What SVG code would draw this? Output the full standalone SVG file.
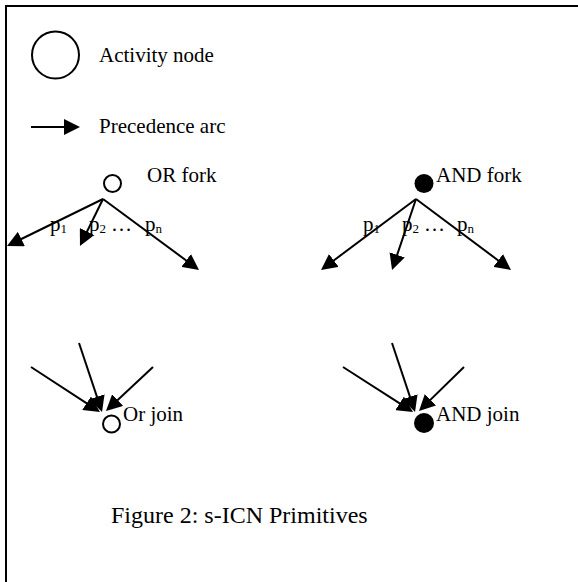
<svg xmlns="http://www.w3.org/2000/svg" width="578" height="582" viewBox="0 0 578 582">
<style>
text{font-family:"Liberation Serif","Times New Roman",serif;font-size:21px;fill:#000}
.cap{font-size:24px}
.sub{font-size:13px}
.arc{stroke:#000;stroke-width:2;fill:none}
.open{fill:#fff;stroke:#000;stroke-width:2}
.solid{fill:#000;stroke:none}
</style>
<defs>
<marker id="ah" viewBox="0 0 16 16" markerWidth="16" markerHeight="16" refX="8" refY="8" orient="auto" markerUnits="userSpaceOnUse">
<path d="M0,0 L16,8 L0,16 Z" fill="#000"/>
</marker>
</defs>
<rect x="0" y="0" width="578" height="582" fill="#fff"/>
<rect id="frame" x="6" y="6" width="620" height="620" fill="none" stroke="#000" stroke-width="2"/>

<g id="legend-activity">
<circle cx="55.5" cy="55" r="23.5" class="open"/>
<text x="99" y="62">Activity node</text>
</g>
<g id="legend-arc">
<text x="99" y="133">Precedence arc</text>
</g>

<g id="or-fork">
<circle cx="112.5" cy="183.5" r="8.5" class="open"/>
<text x="147" y="182">OR fork</text>
</g>
<g id="and-fork">
<circle cx="424" cy="183.5" r="9.5" class="solid"/>
<text x="436" y="182">AND fork</text>
</g>
<g id="or-join">
<circle cx="111.5" cy="424" r="8.5" class="open"/>
<text x="123" y="421">Or join</text>
</g>
<g id="and-join">
<circle cx="424" cy="423" r="10" class="solid"/>
<text x="436" y="421">AND join</text>
</g>

<g id="connectors">
<line class="arc" x1="31" y1="127" x2="72" y2="127" marker-end="url(#ah)"/>
<line class="arc" x1="103" y1="199" x2="14.2" y2="242.5" marker-end="url(#ah)"/>
<line class="arc" x1="103" y1="199" x2="83.5" y2="238.8" marker-end="url(#ah)"/>
<line class="arc" x1="103" y1="199" x2="192.6" y2="265.2" marker-end="url(#ah)"/>
<line class="arc" x1="416" y1="199" x2="327.4" y2="265.2" marker-end="url(#ah)"/>
<line class="arc" x1="416" y1="199" x2="394.6" y2="262.4" marker-end="url(#ah)"/>
<line class="arc" x1="416" y1="199" x2="504.6" y2="265.2" marker-end="url(#ah)"/>
<line class="arc" x1="31" y1="367" x2="93.3" y2="407.6" marker-end="url(#ah)"/>
<line class="arc" x1="79" y1="343" x2="99.5" y2="404.4" marker-end="url(#ah)"/>
<line class="arc" x1="153" y1="367" x2="111.8" y2="405.5" marker-end="url(#ah)"/>
<line class="arc" x1="343" y1="367" x2="406.3" y2="407.7" marker-end="url(#ah)"/>
<line class="arc" x1="392" y1="343" x2="412.5" y2="404.4" marker-end="url(#ah)"/>
<line class="arc" x1="464" y1="367" x2="424.7" y2="405.4" marker-end="url(#ah)"/>
</g>

<g id="or-fork-labels">
<text x="50" y="231">p<tspan class="sub" dy="2">1</tspan></text>
<text x="89" y="231">p<tspan class="sub" dy="2">2</tspan></text>
<text x="111" y="231">…</text>
<text x="145" y="231">p<tspan class="sub" dy="2">n</tspan></text>
</g>
<g id="and-fork-labels">
<text x="363" y="231">p<tspan class="sub" dy="2">1</tspan></text>
<text x="402" y="231">p<tspan class="sub" dy="2">2</tspan></text>
<text x="424" y="231">…</text>
<text x="457" y="231">p<tspan class="sub" dy="2">n</tspan></text>
</g>

<g id="caption">
<text class="cap" x="111" y="523">Figure 2: s-ICN Primitives</text>
</g>
</svg>
